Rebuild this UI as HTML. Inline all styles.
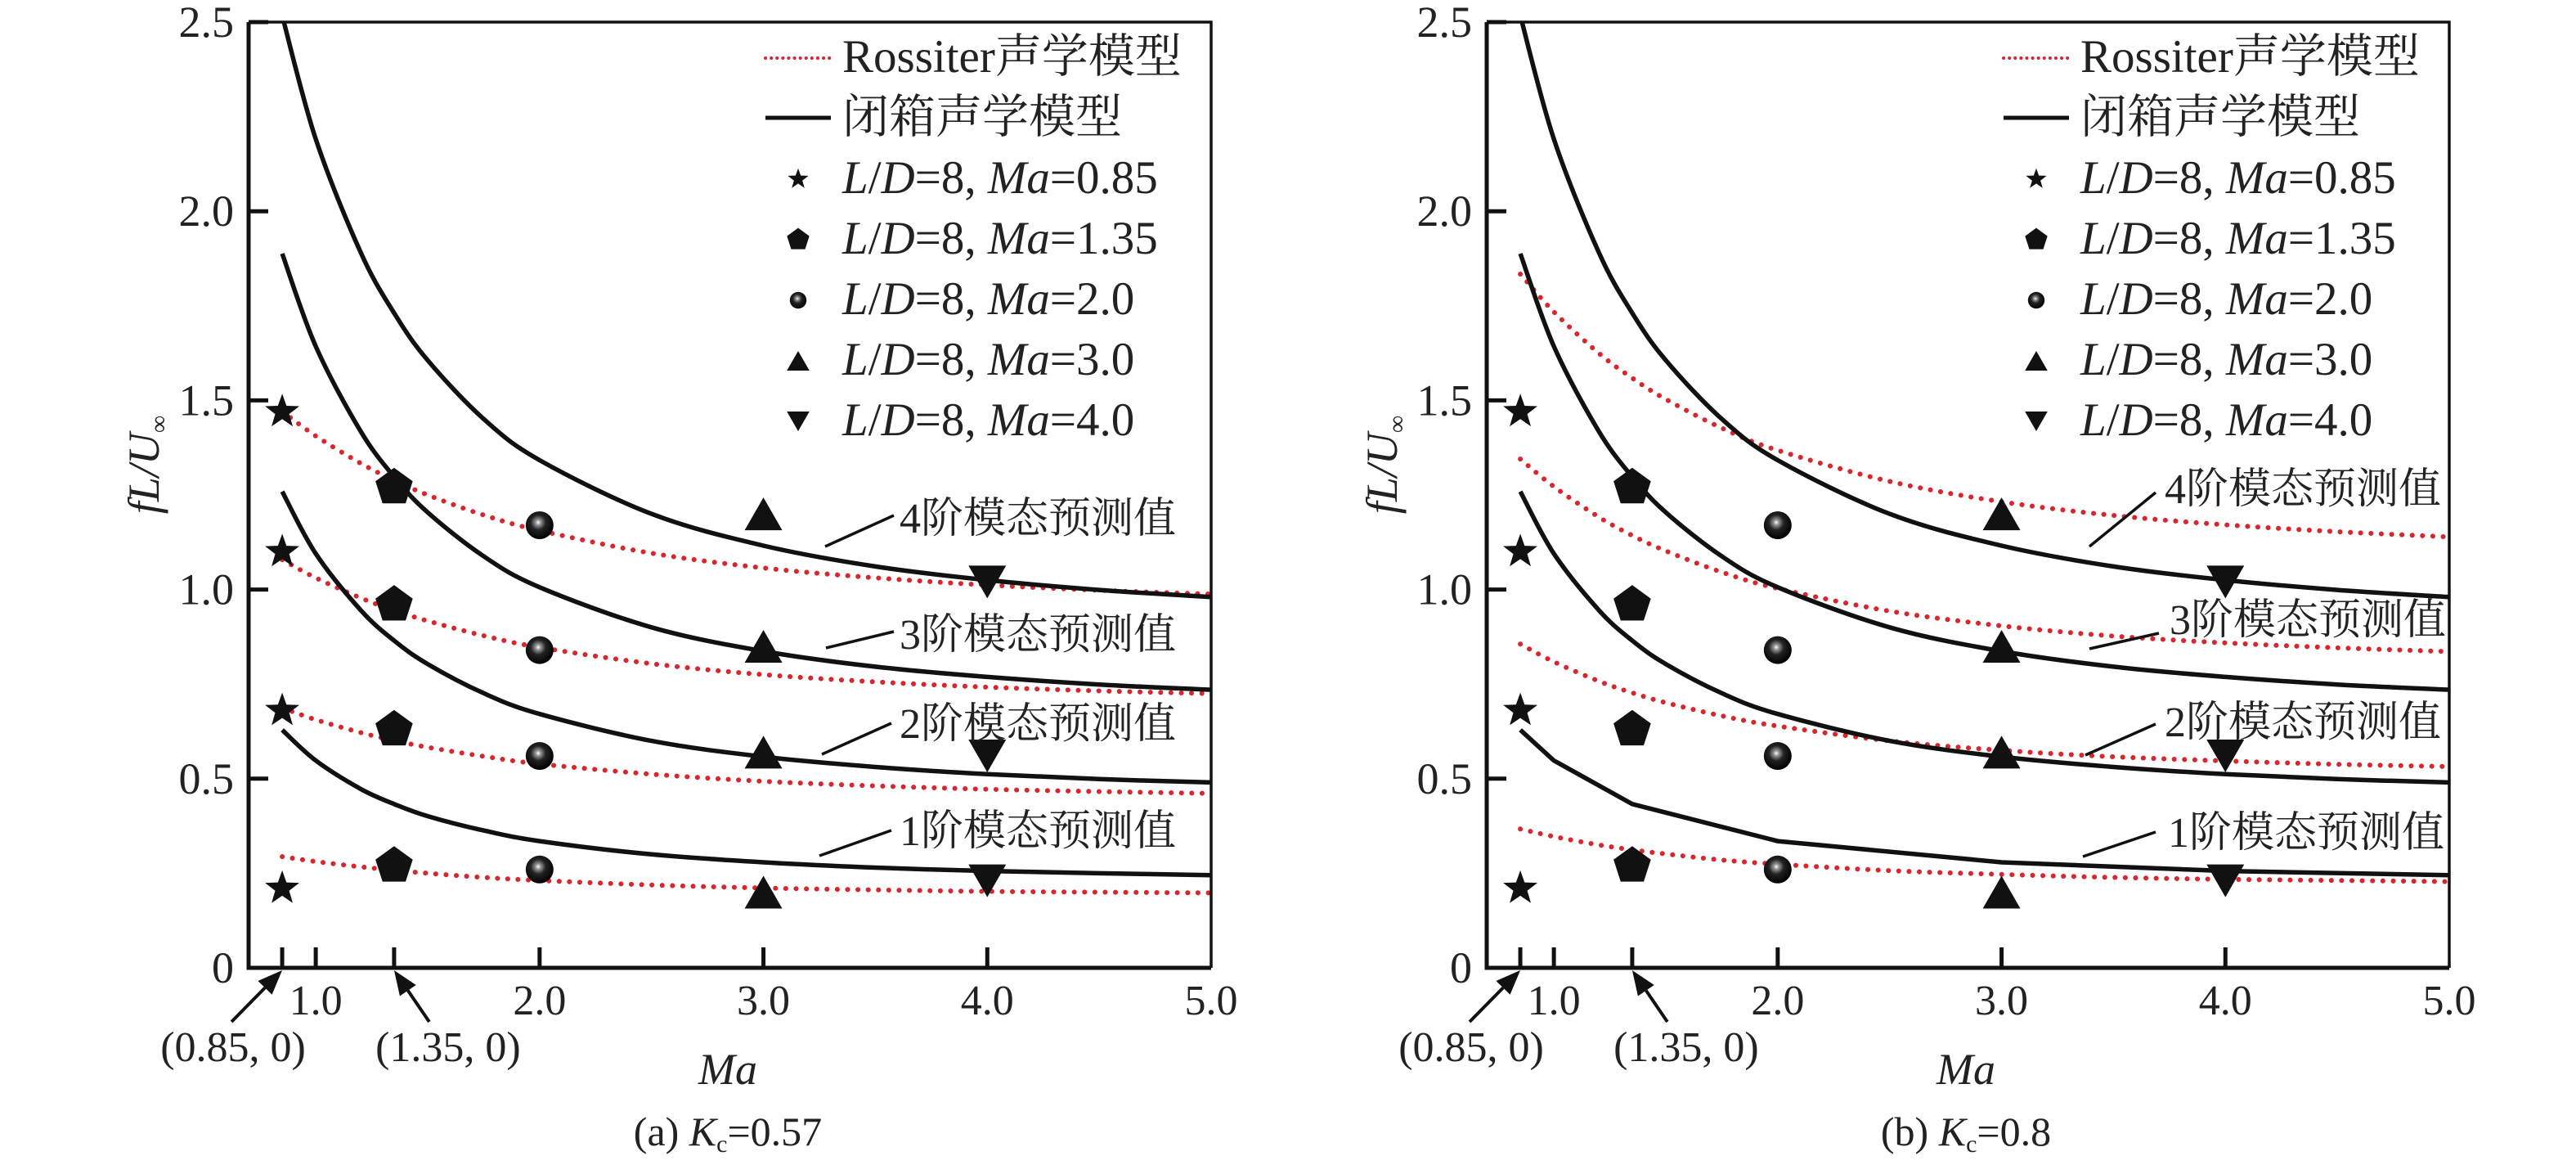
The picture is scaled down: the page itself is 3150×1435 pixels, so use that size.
<!DOCTYPE html>
<html><head><meta charset="utf-8"><style>
html,body{margin:0;padding:0;background:#fff;}
svg{display:block;font-family:"Liberation Serif","Noto Serif CJK SC",serif;}
</style></head><body>
<svg id="chart" width="3150" height="1435" viewBox="0 0 3150 1435" xmlns="http://www.w3.org/2000/svg">
<defs>
<radialGradient id="sph" cx="0.45" cy="0.4" r="0.6">
<stop offset="0" stop-color="#ffffff"/><stop offset="0.15" stop-color="#999"/><stop offset="0.45" stop-color="#222"/><stop offset="1" stop-color="#000"/>
</radialGradient>
<clipPath id="clipA"><rect x="304" y="27" width="1177" height="1156"/></clipPath>
<clipPath id="clipB"><rect x="1818" y="27" width="1177" height="1156"/></clipPath>
</defs>
</svg>
<script>
// ---- data ----
const maSamples = [0.85, 1.0, 1.2, 1.35, 1.5, 1.75, 2.0, 2.5, 3.0, 3.5, 4.0, 4.5, 5.0];
const closed1 = [0.629, 0.548, 0.473, 0.433, 0.401, 0.363, 0.335, 0.300, 0.279, 0.265, 0.256, 0.250, 0.245];
const closed2 = [1.259, 1.095, 0.946, 0.865, 0.803, 0.726, 0.671, 0.600, 0.558, 0.531, 0.512, 0.499, 0.490];
const closed3 = [1.888, 1.643, 1.419, 1.298, 1.204, 1.088, 1.006, 0.900, 0.837, 0.796, 0.769, 0.749, 0.735];
const closed4 = [2.517, 2.191, 1.892, 1.731, 1.606, 1.451, 1.342, 1.200, 1.116, 1.061, 1.025, 0.999, 0.980];
const closedB1Ma = [0.85, 1.0, 1.35, 2.0, 3.0, 4.0, 5.0];
const closedB1 = [0.629, 0.548, 0.433, 0.335, 0.279, 0.256, 0.245];
const rossA1 = [0.294, 0.281, 0.267, 0.258, 0.250, 0.239, 0.231, 0.219, 0.211, 0.206, 0.202, 0.200, 0.198];
const rossA2 = [0.687, 0.656, 0.622, 0.601, 0.583, 0.559, 0.539, 0.512, 0.493, 0.481, 0.472, 0.466, 0.461];
const rossA3 = [1.079, 1.031, 0.978, 0.945, 0.917, 0.878, 0.847, 0.804, 0.775, 0.756, 0.742, 0.732, 0.725];
const rossA4 = [1.471, 1.406, 1.334, 1.289, 1.250, 1.197, 1.156, 1.096, 1.057, 1.031, 1.012, 0.998, 0.988];
const rossB1 = [0.367, 0.347, 0.325, 0.312, 0.301, 0.285, 0.274, 0.257, 0.247, 0.239, 0.234, 0.231, 0.228];
const rossB2 = [0.856, 0.809, 0.758, 0.727, 0.701, 0.666, 0.639, 0.600, 0.575, 0.558, 0.547, 0.538, 0.532];
const rossB3 = [1.345, 1.272, 1.192, 1.143, 1.102, 1.046, 1.003, 0.943, 0.904, 0.877, 0.859, 0.846, 0.836];
const rossB4 = [1.834, 1.734, 1.625, 1.559, 1.503, 1.427, 1.368, 1.286, 1.232, 1.196, 1.171, 1.153, 1.139];
const starVals = [1.47, 1.10, 0.68, 0.21];
const pentVals = [1.27, 0.96, 0.63, 0.27];
const sphereVals = [1.17, 0.84, 0.56, 0.26];
const triUpVals = [1.20, 0.85, 0.57, 0.20];
const triDownVals = [1.02, 0.56, 0.23];
const yTicks = [0, 0.5, 1.0, 1.5, 2.0, 2.5];
const yTickLabels = ["0", "0.5", "1.0", "1.5", "2.0", "2.5"];
const xTicks = [0.85, 1.0, 1.35, 2.0, 3.0, 4.0];
const xLabelVals = [1.0, 2.0, 3.0, 4.0, 5.0];
const xLabelText = ["1.0", "2.0", "3.0", "4.0", "5.0"];

const NS = "http://www.w3.org/2000/svg";
const svg = document.getElementById('chart');
function mk(tag, attrs, parent) {
  const e = document.createElementNS(NS, tag);
  for (const k in attrs) e.setAttribute(k, attrs[k]);
  (parent || svg).appendChild(e);
  return e;
}
const X0 = 0.7, X1 = 5.0, Y1 = 2.5;
const PW = 1177, PT = 27, PB = 1183;
function sx(ox, v) { return ox + (v - X0) / (X1 - X0) * PW; }
function sy(v) { return PB - v / Y1 * (PB - PT); }

function smoothPath(pts) {
  let d = "M" + pts[0][0].toFixed(1) + "," + pts[0][1].toFixed(1);
  for (let i = 0; i < pts.length - 1; i++) {
    const p0 = pts[Math.max(0, i - 1)], p1 = pts[i], p2 = pts[i + 1], p3 = pts[Math.min(pts.length - 1, i + 2)];
    const c1x = p1[0] + (p2[0] - p0[0]) / 6, c1y = p1[1] + (p2[1] - p0[1]) / 6;
    const c2x = p2[0] - (p3[0] - p1[0]) / 6, c2y = p2[1] - (p3[1] - p1[1]) / 6;
    d += " C" + c1x.toFixed(1) + "," + c1y.toFixed(1) + " " + c2x.toFixed(1) + "," + c2y.toFixed(1) + " " + p2[0].toFixed(1) + "," + p2[1].toFixed(1);
  }
  return d;
}
function linePath(pts) { return "M" + pts.map(p => p[0].toFixed(1) + "," + p[1].toFixed(1)).join(" L"); }

function starPts(cx, cy, R, r) {
  const a = []; for (let i = 0; i < 10; i++) { const ang = -Math.PI / 2 + i * Math.PI / 5; const rr = i % 2 ? r : R; a.push((cx + rr * Math.cos(ang)).toFixed(1) + "," + (cy + rr * Math.sin(ang)).toFixed(1)); } return a.join(" ");
}
function pentPts(cx, cy, R) {
  const a = []; for (let i = 0; i < 5; i++) { const ang = -Math.PI / 2 + i * 2 * Math.PI / 5; a.push((cx + R * Math.cos(ang)).toFixed(1) + "," + (cy + R * Math.sin(ang)).toFixed(1)); } return a.join(" ");
}
function triPts(cx, cy, w, h, up) {
  return up ? `${cx - w / 2},${cy + h / 2} ${cx + w / 2},${cy + h / 2} ${cx},${cy - h / 2}` : `${cx - w / 2},${cy - h / 2} ${cx + w / 2},${cy - h / 2} ${cx},${cy + h / 2}`;
}
function marker(kind, cx, cy, s, parent, name) {
  let e;
  if (kind === 'star') e = mk('polygon', { points: starPts(cx, cy, 22 * s, 9 * s), fill: '#111' }, parent);
  else if (kind === 'pent') e = mk('polygon', { points: pentPts(cx, cy, 24 * s), fill: '#111' }, parent);
  else if (kind === 'sphere') e = mk('circle', { cx: cx, cy: cy, r: 17 * s, fill: 'url(#sph)' }, parent);
  else if (kind === 'up') e = mk('polygon', { points: triPts(cx, cy, 46 * s, 40 * s, true), fill: '#111' }, parent);
  else e = mk('polygon', { points: triPts(cx, cy, 46 * s, 40 * s, false), fill: '#111' }, parent);
  
  
}

function panel(ox, id, ross, closed, rightMode1Linear, labels, caption) {
  const g = mk('g', {});
  
  
  const cg = mk('g', { 'clip-path': 'url(#clip' + (id === 'a' ? 'A' : 'B') + ')' }, g);
  ross.forEach((arr, i) => {
    const p = mk('path', { d: smoothPath(maSamples.map((m, j) => [sx(ox, m), sy(arr[j])])), fill: 'none', stroke: '#d7262e', 'stroke-width': 6, 'stroke-dasharray': '0.1 12.5', 'stroke-linecap': 'round' }, cg);
    
    
  });
  closed.forEach((arr, i) => {
    let d;
    if (i === 0 && rightMode1Linear) d = linePath(closedB1Ma.map((m, j) => [sx(ox, m), sy(closedB1[j])]));
    else d = smoothPath(maSamples.map((m, j) => [sx(ox, m), sy(arr[j])]));
    const p = mk('path', { d: d, fill: 'none', stroke: '#111', 'stroke-width': 5.5 }, cg);
    
    
  });
  const fr = mk('path', { d: `M${ox},${PT} L${ox},${PB} L${ox + PW},${PB}`, fill: 'none', stroke: '#111', 'stroke-width': 5 }, g);
   
  const fr2 = mk('path', { d: `M${ox},${PT} L${ox + PW},${PT} L${ox + PW},${PB}`, fill: 'none', stroke: '#111', 'stroke-width': 3.5 }, g);
   
  yTicks.forEach((v, i) => {
    if (v > 0) { const t = mk('line', { x1: ox, x2: ox + 24, y1: sy(v), y2: sy(v), stroke: '#111', 'stroke-width': 5 }, g);   }
    const tx = mk('text', { x: ox - 18, y: sy(v) + 18, 'font-size': 54, 'text-anchor': 'end', fill: '#222' }, g);
    tx.textContent = yTickLabels[i];
     
  });
  xTicks.forEach(v => {
    const t = mk('line', { x1: sx(ox, v), x2: sx(ox, v), y1: PB, y2: PB - 25, stroke: '#111', 'stroke-width': 5 }, g);
     
  });
  xLabelVals.forEach((v, i) => {
    const tx = mk('text', { x: sx(ox, v), y: 1240, 'font-size': 52, 'text-anchor': 'middle', fill: '#222' }, g);
    tx.textContent = xLabelText[i];
     
  });
  const arrows = [[0.85, -62, 63, '(0.85, 0)', -60], [1.35, 43, 63, '(1.35, 0)', 66]];
  arrows.forEach(a => {
    const tipX = sx(ox, a[0]), tipY = PB + 3;
    const ax = tipX + a[1], ay = tipY + a[2];
    const ln = Math.hypot(a[1], a[2]), ux = -a[1] / ln, uy = -a[2] / ln;
    const bx = tipX - ux * 30, by = tipY - uy * 30;
    mk('line', { x1: ax, y1: ay, x2: bx, y2: by, stroke: '#111', 'stroke-width': 4 }, g);
    const hp = mk('polygon', { points: `${tipX},${tipY} ${bx - uy * 12},${by + ux * 12} ${bx + uy * 12},${by - ux * 12}`, fill: '#111' }, g);
     
    const tx = mk('text', { x: tipX + a[4], y: 1297, 'font-size': 52, 'text-anchor': 'middle', fill: '#222' }, g);
    tx.textContent = a[3];
     
  });
  const xt = mk('text', { x: ox + 586, y: 1325, 'font-size': 54, 'text-anchor': 'middle', 'font-style': 'italic', fill: '#222' }, g);
  xt.textContent = 'Ma';
   
  const yt = mk('text', { x: 0, y: 0, transform: `translate(${ox - 110},568) rotate(-90)`, 'font-size': 54, 'text-anchor': 'middle', 'font-style': 'italic', fill: '#222' }, g);
  yt.innerHTML = 'fL/U<tspan font-size="30" dy="10" font-style="normal">∞</tspan>';
   
  const cp = mk('text', { x: ox + 586, y: 1400, 'font-size': 50, 'text-anchor': 'middle', fill: '#222' }, g);
  cp.innerHTML = caption;
   
  const mg = mk('g', {}, g);
  starVals.forEach(v => marker('star', sx(ox, 0.85), sy(v), 1, mg, 'marker-ma-0.85'));
  pentVals.forEach(v => marker('pent', sx(ox, 1.35), sy(v), 1, mg, 'marker-ma-1.35'));
  sphereVals.forEach(v => marker('sphere', sx(ox, 2.0), sy(v), 1, mg, 'marker-ma-2.0'));
  triUpVals.forEach(v => marker('up', sx(ox, 3.0), sy(v), 1, mg, 'marker-ma-3.0'));
  triDownVals.forEach(v => marker('down', sx(ox, 4.0), sy(v), 1, mg, 'marker-ma-4.0'));
  labels.forEach((L, i) => {
    const ll = mk('line', { x1: L[0], y1: L[1], x2: L[2], y2: L[3], stroke: '#111', 'stroke-width': 3.5 }, g);
     
    const tx = mk('text', { x: L[4], y: L[5], 'font-size': 52, fill: '#222' }, g);
    tx.textContent = (4 - i) + '阶模态预测值';
     
  });
  const lg = mk('g', {}, g);
   
  const lx = ox + 632, tx0 = ox + 726;
  const rows = [88, 162, 236, 310, 384, 458, 532];
  const l1 = mk('line', { x1: lx, x2: lx + 80, y1: rows[0] - 17, y2: rows[0] - 17, stroke: '#d7262e', 'stroke-width': 4, 'stroke-dasharray': '0.1 7', 'stroke-linecap': 'round' }, lg);
   
  const t1 = mk('text', { x: tx0, y: rows[0], 'font-size': 57, fill: '#222' }, lg); t1.textContent = 'Rossiter声学模型';
   
  const l2 = mk('line', { x1: lx, x2: lx + 80, y1: rows[1] - 18, y2: rows[1] - 18, stroke: '#111', 'stroke-width': 5 }, lg);
   
  const t2 = mk('text', { x: tx0, y: rows[1], 'font-size': 57, fill: '#222' }, lg); t2.textContent = '闭箱声学模型';
   
  const kinds = ['star', 'pent', 'sphere', 'up', 'down'];
  const mas = ['0.85', '1.35', '2.0', '3.0', '4.0'];
  kinds.forEach((k, i) => {
    marker(k, lx + 40, rows[i + 2] - 17, 0.6, lg, 'legend-marker-' + mas[i]);
    const t = mk('text', { x: tx0, y: rows[i + 2], 'font-size': 57, fill: '#222' }, lg);
    t.innerHTML = '<tspan font-style="italic">L</tspan>/<tspan font-style="italic">D</tspan>=8, <tspan font-style="italic">Ma</tspan>=' + mas[i];
     
  });
}

panel(304, 'a', [rossA1, rossA2, rossA3, rossA4], [closed1, closed2, closed3, closed4], false,
  [[1009, 668, 1093, 630, 1100, 651], [1010, 792, 1093, 772, 1100, 793], [1005, 922, 1090, 884, 1100, 902], [1002, 1046, 1090, 1015, 1100, 1033]],
  '(a) <tspan font-style="italic">K</tspan><tspan font-size="30" dy="8">c</tspan><tspan dy="-8">=0.57</tspan>');
panel(1818, 'b', [rossB1, rossB2, rossB3, rossB4], [closed1, closed2, closed3, closed4], true,
  [[2555, 668, 2636, 602, 2647, 615], [2555, 793, 2640, 774, 2653, 775], [2550, 923, 2636, 885, 2647, 900], [2547, 1047, 2636, 1017, 2651, 1035]],
  '(b) <tspan font-style="italic">K</tspan><tspan font-size="30" dy="8">c</tspan><tspan dy="-8">=0.8</tspan>');
</script>
</body></html>
